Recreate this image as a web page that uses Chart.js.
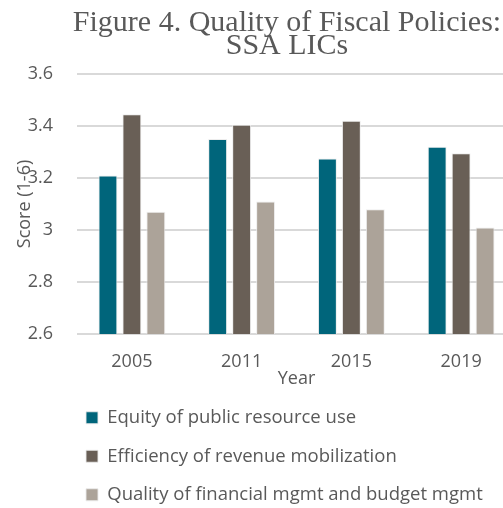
<!DOCTYPE html>
<html>
<head>
<meta charset="utf-8">
<script src="https://cdn.jsdelivr.net/npm/chart.js"></script>
<style>
  html, body { margin: 0; padding: 0; background: #fff; overflow: hidden; }
  #wrap { width: 503px; height: 508px; overflow: hidden; position: relative; }
  canvas { position: absolute; left: 0; top: 0; }
</style>
</head>
<body>
<div id="wrap"><canvas id="fiscalChart" width="574" height="514"></canvas></div>
<script>
const years = ["2005", "2011", "2015", "2019"];
const equityOfResourceUse = [3.21, 3.35, 3.275, 3.32];
const revenueMobilization = [3.445, 3.405, 3.42, 3.295];
const financialMgmt = [3.07, 3.11, 3.08, 3.01];
const seriesNames = [
  "Equity of public resource use",
  "Efficiency of revenue mobilization",
  "Quality of financial mgmt and budget mgmt",
];
const yTickLabels = ["2.6", "2.8", "3", "3.2", "3.4", "3.6"];

const textGray = "#595959";
const tickFont = { family: "'Open Sans'", size: 18 };

const barStyle = {
  borderWidth: 1,
  borderColor: "rgba(235,235,235,0.9)",
  categoryPercentage: 0.655,
  barPercentage: 0.79,
};

const data = {
  labels: years,
  datasets: [
    { label: seriesNames[0], data: equityOfResourceUse, backgroundColor: "#00657b", ...barStyle },
    { label: seriesNames[1], data: revenueMobilization, backgroundColor: "#695f56", ...barStyle },
    { label: seriesNames[2], data: financialMgmt, backgroundColor: "#aca399", ...barStyle },
  ],
};

// legend sits a bit left of the plot edge in the original
const legendShift = {
  id: "legendShift",
  afterLayout: (chart) => {
    chart.legend.left -= 11;
    chart.legend.right -= 11;
  },
};

new Chart(document.getElementById("fiscalChart"), {
  type: "bar",
  data: data,
  options: {
    responsive: false,
    animation: false,
    plugins: {
      title: {
        display: true,
        text: ["Figure 4. Quality of Fiscal Policies:", "SSA LICs"],
        color: textGray,
        font: { family: "'Liberation Serif'", size: 30, weight: "normal", lineHeight: "23px" },
        padding: { top: 11.5, bottom: 16.5 },
      },
      legend: {
        position: "bottom",
        align: "start",
        fullSize: false,
        labels: {
          boxWidth: 12,
          boxHeight: 12,
          padding: 20,
          color: textGray,
          font: { family: "'Open Sans'", size: 18.5 },
        },
      },
      tooltip: { enabled: false },
    },
    scales: {
      x: {
        grid: { display: false },
        border: { display: false },
        ticks: { color: textGray, font: tickFont, padding: 9 },
        title: {
          display: true,
          text: "Year",
          color: textGray,
          font: tickFont,
          padding: { top: 0, bottom: -1 },
        },
        afterFit: (s) => { s.height = 54.5; },
      },
      y: {
        min: 2.6,
        max: 3.6,
        ticks: {
          stepSize: 0.2,
          color: textGray,
          font: tickFont,
          padding: 24,
          callback: (v, i) => yTickLabels[i],
        },
        border: { display: false },
        grid: { color: "#d9d9d9", lineWidth: 2, drawTicks: false },
        title: {
          display: true,
          text: "Score (1-6)",
          color: textGray,
          font: tickFont,
          padding: { top: 14, bottom: 0 },
        },
        afterFit: (s) => { s.width = 77; },
      },
      yRight: {
        position: "right",
        min: 0,
        max: 1,
        grid: { display: false },
        border: { display: false },
        ticks: { display: false },
        afterFit: (s) => { s.width = 58; },
      },
    },
  },
  plugins: [legendShift],
});
</script>
</body>
</html>
